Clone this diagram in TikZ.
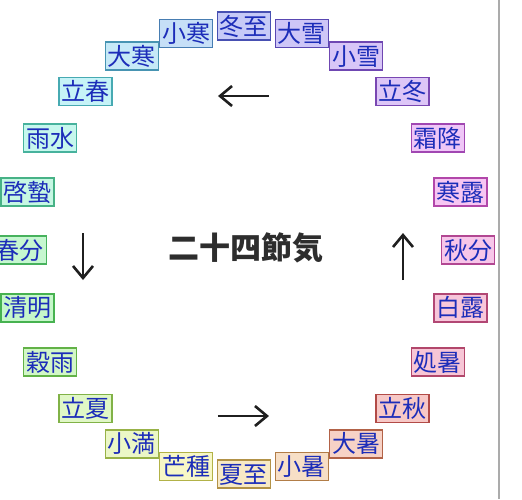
\documentclass[tikz,border=0pt]{standalone}
\usepackage{fontspec}
\usepackage{xcolor}
\usepackage{tikz}
\usetikzlibrary{arrows.meta}
\newfontfamily\jp{Noto Sans CJK JP}
\definecolor{termtext}{RGB}{28,45,185}
\definecolor{titletext}{RGB}{45,45,45}

\begin{document}
\begin{tikzpicture}[x=1pt,y=1pt,
  term/.code={\definecolor{hsbfill}{Hsb}{#1,0.2,0.97}\colorlet{termfill}[rgb]{hsbfill}%
    \definecolor{hsbline}{Hsb}{#1,0.6,0.7}\colorlet{termline}[rgb]{hsbline}%
    \tikzset{draw=termline,fill=termfill,line width=1.7pt,text=termtext,
      font=\jp\fontsize{24}{24}\selectfont,inner xsep=2.5pt,inner ysep=2pt,
      text height=21pt,text depth=3pt}},
  turn/.style={line width=2.6pt,draw=black!88,-{Straight Barb[length=12pt,width=20pt]}}]
  \useasboundingbox (-244,-249) rectangle (278,250);
  \draw[black!33,line width=2pt] (255,250) -- (255,-249);
  % winter, spring
  \node[term=235] (touji)     at (90:224)  {冬至};
  \node[term=210] (shoukan)   at (105:224) {小寒};
  \node[term=197] (daikan)    at (120:224) {大寒};
  \node[term=185] (risshun)   at (135:224) {立春};
  \node[term=168] (usui)      at (150:224) {雨水};
  \node[term=155] (keichitsu) at (165:224) {啓蟄};
  \node[term=132] (shunbun)   at (180:224) {春分};
  \node[term=125] (seimei)    at (195:224) {清明};
  \node[term=105] (kokuu)     at (210:224) {穀雨};
  % summer, autumn
  \node[term=88]  (rikka)     at (225:224) {立夏};
  \node[term=75]  (shouman)   at (240:224) {小満};
  \node[term=60]  (boushu)    at (255:224) {芒種};
  \node[term=42]  (geshi)     at (270:224) {夏至};
  \node[term=30]  (shousho)   at (285:224) {小暑};
  \node[term=15]  (taisho)    at (300:224) {大暑};
  \node[term=2]   (risshuu)   at (315:224) {立秋};
  \node[term=340] (shosho)    at (330:224) {処暑};
  \node[term=335] (hakuro)    at (345:224) {白露};
  \node[term=318] (shuubun)   at (0:224)   {秋分};
  \node[term=305] (kanro)     at (15:224)  {寒露};
  \node[term=290] (soukou)    at (30:224)  {霜降};
  \node[term=268] (rittou)    at (45:224)  {立冬};
  \node[term=262] (shousetsu) at (60:224)  {小雪};
  \node[term=250] (taisetsu)  at (75:224)  {大雪};
  \node[font=\jp\bfseries\fontsize{31}{31}\selectfont,text=titletext] (title) at (2,2) {二十四節気};
  \draw[turn] (25,154) -- (-26,154);
  \draw[turn] (-161,17) -- (-161,-30);
  \draw[turn] (-26,-166) -- (25,-166);
  \draw[turn] (159,-30) -- (159,17);
\end{tikzpicture}
\end{document}
